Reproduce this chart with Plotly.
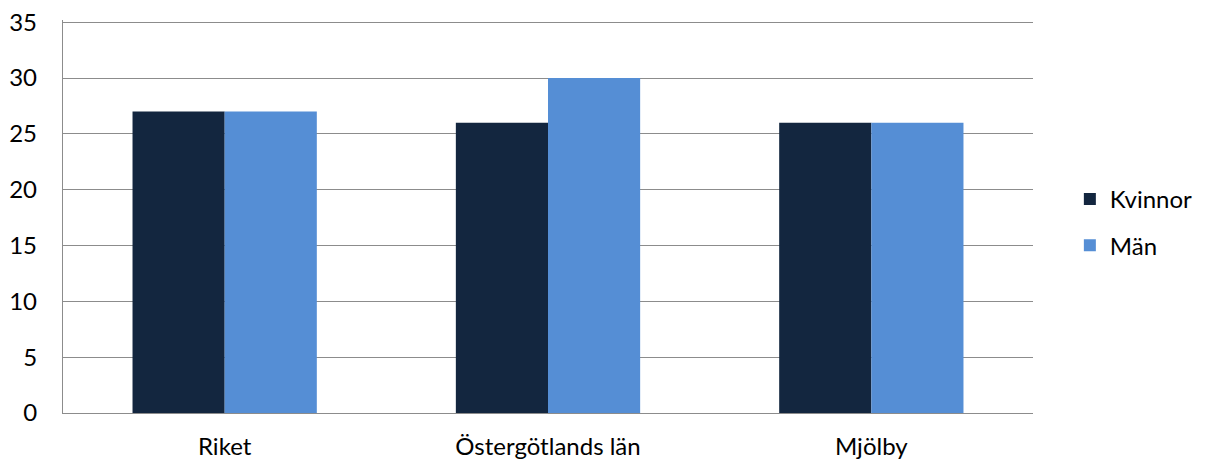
import plotly.graph_objects as go

categories = ["Riket", "Östergötlands län", "Mjölby"]
kvinnor = [27, 26, 26]
man = [27, 30, 26]
y_ticks = [0, 5, 10, 15, 20, 25, 30, 35]

font_family = "Lato, 'Open Sans', sans-serif"

fig = go.Figure()
fig.add_trace(go.Bar(x=categories, y=kvinnor, name="Kvinnor", marker_color="#13263F",
                     marker_line_width=0, legendgroup="k"))
fig.add_trace(go.Bar(x=categories, y=man, name="Män", marker_color="#558ED5",
                     marker_line_width=0, legendgroup="m"))

fig.update_layout(
    width=1205, height=462,
    margin=dict(l=55, r=180, t=12, b=57, autoexpand=False),
    paper_bgcolor="white", plot_bgcolor="white",
    barmode="group", bargap=0.43, bargroupgap=0,
    font=dict(family=font_family, size=24, color="#000000"),
    legend=dict(x=1.038, y=0.485, xanchor="left", yanchor="middle",
                traceorder="grouped", tracegroupgap=12,
                font=dict(size=24), itemwidth=30),
    showlegend=True,
)
fig.update_yaxes(range=[0, 35.2], tickvals=y_ticks, showgrid=True, gridcolor="#8C8C8C",
                 gridwidth=1.3, showline=True, linecolor="#8C8C8C", linewidth=1.3,
                 zeroline=False, ticks="", ticklabelstandoff=20, automargin=False,
                 ticklabeloverflow="allow")
fig.update_xaxes(showline=True, linecolor="#8C8C8C", linewidth=1.3, ticks="",
                 ticklabelstandoff=12, automargin=False, ticklabeloverflow="allow")

fig.write_html("out.html")
